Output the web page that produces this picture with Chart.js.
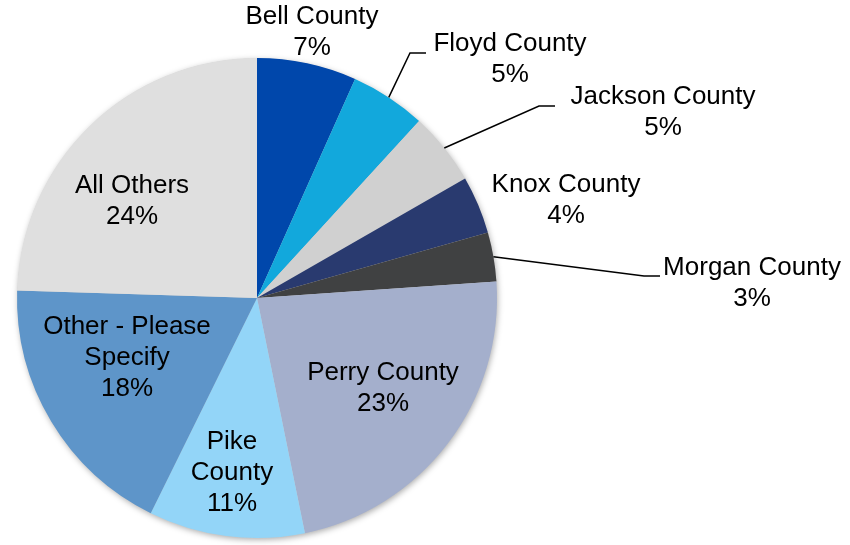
<!DOCTYPE html>
<html>
<head>
<meta charset="utf-8">
<script src="https://cdn.jsdelivr.net/npm/chart.js@4.4.1/dist/chart.umd.min.js"></script>
<style>
  html, body { margin: 0; padding: 0; background: #fff; }
  #wrap { width: 850px; height: 545px; }
</style>
</head>
<body>
<div id="wrap"><canvas id="countyPie"></canvas></div>
<script>
// data
const counties = ['Bell County', 'Floyd County', 'Jackson County', 'Knox County', 'Morgan County',
                  'Perry County', 'Pike County', 'Other - Please Specify', 'All Others'];
const shares = [6.7, 5.1, 4.9, 3.9, 3.3, 22.9, 10.5, 18.2, 24.5];
const pctLabels = ['7%', '5%', '5%', '4%', '3%', '23%', '11%', '18%', '24%'];
const colors = ['#0047AB', '#12A8DC', '#D0D0D0', '#293A6F', '#404142',
                '#A4AFCC', '#93D5F8', '#5E95C9', '#DFDFDF'];

// label layout: text lines, first line centre offset from pie centre, optional leader end
const labelLayout = [
    { lines: ['Bell County'], dx: 55, dy: -281 },
    { lines: ['Floyd County'], dx: 253, dy: -254, leader: { x: 169, y: -245 } },
    { lines: ['Jackson County'], dx: 406, dy: -201, leader: { x: 298, y: -192 } },
    { lines: ['Knox County'], dx: 309, dy: -113 },
    { lines: ['Morgan County'], dx: 495, dy: -30, leader: { x: 403, y: -22 } },
    { lines: ['Perry County'], dx: 126, dy: 75 },
    { lines: ['Pike', 'County'], dx: -25, dy: 144 },
    { lines: ['Other - Please', 'Specify'], dx: -130, dy: 29 },
    { lines: ['All Others'], dx: -125, dy: -112 }
];

const pieShadow = {
    id: 'pieShadow',
    beforeDatasetsDraw(chart) {
        const arc = chart.getDatasetMeta(0).data[0];
        if (!arc) return;
        const ctx = chart.ctx;
        ctx.save();
        ctx.shadowColor = 'rgba(0,0,0,0.35)';
        ctx.shadowBlur = 6;
        ctx.shadowOffsetX = 1;
        ctx.shadowOffsetY = 2;
        ctx.fillStyle = '#ccc';
        ctx.beginPath();
        ctx.arc(arc.x, arc.y, arc.outerRadius - 0.5, 0, Math.PI * 2);
        ctx.fill();
        ctx.restore();
    }
};

const sliceLabels = {
    id: 'sliceLabels',
    afterDatasetsDraw(chart) {
        const ctx = chart.ctx;
        const arcs = chart.getDatasetMeta(0).data;
        const lh = 31;
        ctx.save();
        ctx.font = '26px "Liberation Sans", Arial, sans-serif';
        ctx.fillStyle = '#000';
        ctx.textAlign = 'center';
        ctx.textBaseline = 'middle';
        arcs.forEach((arc, i) => {
            const lay = labelLayout[i];
            const cx = arc.x, cy = arc.y;
            const lines = lay.lines.concat([pctLabels[i]]);
            lines.forEach((t, k) => {
                ctx.fillText(t, cx + lay.dx, cy + lay.dy + k * lh);
            });
            if (lay.leader) {
                const mid = (arc.startAngle + arc.endAngle) / 2;
                const sx = cx + Math.cos(mid) * arc.outerRadius;
                const sy = cy + Math.sin(mid) * arc.outerRadius;
                const ex = cx + lay.leader.x, ey = cy + lay.leader.y;
                ctx.strokeStyle = '#000';
                ctx.lineWidth = 1.5;
                ctx.beginPath();
                ctx.moveTo(sx, sy);
                ctx.lineTo(ex - 16, ey);
                ctx.lineTo(ex, ey);
                ctx.stroke();
            }
        });
        ctx.restore();
    }
};

const ctx = document.getElementById('countyPie').getContext('2d');
new Chart(ctx, {
    type: 'pie',
    data: {
        labels: counties,
        datasets: [{
            data: shares,
            backgroundColor: colors,
            borderWidth: 0
        }]
    },
    options: {
        responsive: true,
        maintainAspectRatio: false,
        animation: false,
        layout: {
            padding: { top: 58, bottom: 7, left: 17, right: 353 }
        },
        plugins: {
            legend: { display: false },
            tooltip: { enabled: false }
        }
    },
    plugins: [pieShadow, sliceLabels]
});
</script>
</body>
</html>
